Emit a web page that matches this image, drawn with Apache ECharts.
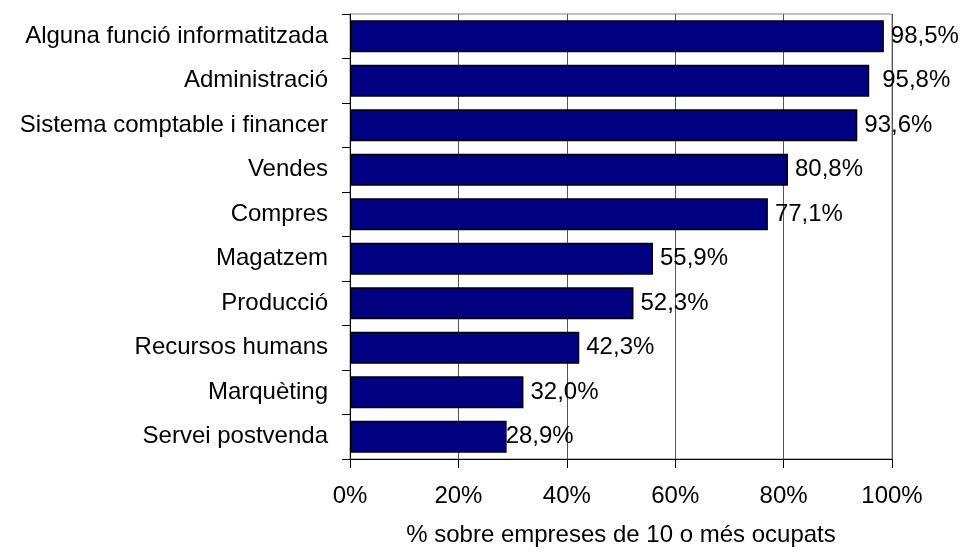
<!DOCTYPE html>
<html>
<head>
<meta charset="utf-8">
<script src="https://cdn.jsdelivr.net/npm/echarts@6/dist/echarts.min.js"></script>
<style>
  html, body { margin: 0; padding: 0; background: #fff; }
  #chart { width: 963px; height: 552px; }
</style>
</head>
<body>
<div id="chart"></div>
<script>
const funcions = [
    'Alguna funció informatitzada',
    'Administració',
    'Sistema comptable i financer',
    'Vendes',
    'Compres',
    'Magatzem',
    'Producció',
    'Recursos humans',
    'Marquèting',
    'Servei postvenda'
];
const percentatges = [98.5, 95.8, 93.6, 80.8, 77.1, 55.9, 52.3, 42.3, 32.0, 28.9];
const xTicks = [0, 20, 40, 60, 80, 100];
const nomEix = '% sobre empreses de 10 o més ocupats';

const font = 'Liberation Sans, Arial, sans-serif';
const chart = echarts.init(document.getElementById('chart'));

// a l'original algunes etiquetes estan una mica desplaçades
const desplacaments = { 1: 6, 9: -8 };

chart.setOption({
    animation: false,
    textStyle: { fontFamily: font },
    grid: {
        left: 350, right: 71, top: 14, bottom: 90,
        show: true, borderColor: '#808080', borderWidth: 1
    },
    xAxis: {
        type: 'value',
        min: xTicks[0],
        max: xTicks[xTicks.length - 1],
        interval: 20,
        name: nomEix,
        nameLocation: 'middle',
        nameGap: 64,
        nameTextStyle: { color: '#000', fontSize: 24, fontFamily: font },
        axisLine: { show: true, lineStyle: { color: '#000', width: 1 } },
        axisTick: { show: true, length: 9, lineStyle: { color: '#000' } },
        axisLabel: {
            color: '#000', fontSize: 24, margin: 25, fontFamily: font,
            formatter: v => v + '%'
        },
        splitLine: { show: true, lineStyle: { color: '#555', width: 1 } }
    },
    yAxis: {
        type: 'category',
        data: funcions,
        inverse: true,
        axisLine: { show: true, lineStyle: { color: '#000', width: 1 } },
        axisTick: { show: true, length: 8, lineStyle: { color: '#000' } },
        axisLabel: { color: '#000', fontSize: 24, margin: 22, fontFamily: font }
    },
    series: [{
        type: 'bar',
        data: percentatges.map((v, i) =>
            desplacaments[i] ? { value: v, label: { offset: [desplacaments[i], 0] } } : v),
        barCategoryGap: '28%',
        itemStyle: { color: '#000080', borderColor: '#000', borderWidth: 1.5 },
        label: {
            show: true,
            position: 'right',
            distance: 7,
            color: '#000',
            fontSize: 24,
            fontFamily: font,
            formatter: p => p.value.toFixed(1).replace('.', ',') + '%'
        }
    }]
});
</script>
</body>
</html>
